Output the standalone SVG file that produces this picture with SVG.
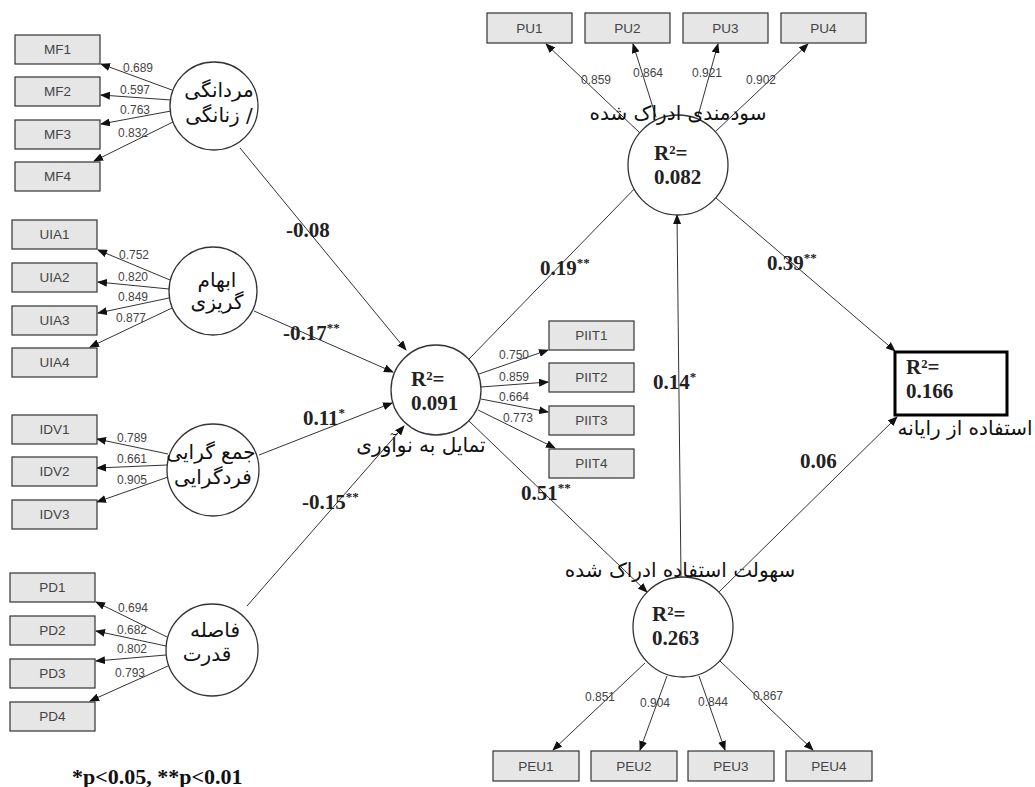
<svg xmlns="http://www.w3.org/2000/svg" width="1035" height="787" viewBox="0 0 1035 787">
<style>
.bg{fill:#ffffff}
.ind rect{fill:#e6e6e6;stroke:#333;stroke-width:1.2}
.ind text{font-family:"Liberation Sans",Arial,sans-serif;font-size:13.5px;fill:#444;text-anchor:middle}
.lat circle{fill:#fff;stroke:#333;stroke-width:1.3}
.ar{font-family:"DejaVu Sans","Noto Sans",sans-serif;font-size:20px;fill:#111;text-anchor:middle;direction:rtl}
.r2{font-family:"Liberation Serif","Times New Roman",serif;font-size:21px;font-weight:bold;fill:#222}
.con line{stroke:#333;stroke-width:1;marker-end:url(#ah)}
.ld{font-family:"Liberation Sans",Arial,sans-serif;font-size:12px;fill:#444;text-anchor:middle}
.pc{font-family:"Liberation Serif","Times New Roman",serif;font-size:21px;font-weight:bold;fill:#222}
.pc tspan.s{font-size:13px}
</style>
<defs>
<marker id="ah" markerWidth="10" markerHeight="8" refX="9" refY="4" orient="auto" markerUnits="userSpaceOnUse">
<path d="M0,0 L10,4 L0,8 Z" fill="#111"/>
</marker>
</defs>
<rect class="bg" x="0" y="0" width="1035" height="787"/>

<g id="connectors" class="con">
<line x1="172" y1="90" x2="101" y2="64"/>
<line x1="171" y1="100" x2="101" y2="95"/>
<line x1="171" y1="111" x2="101" y2="124"/>
<line x1="173" y1="122" x2="94" y2="161"/>
<line x1="170" y1="280" x2="98" y2="250"/>
<line x1="169" y1="289" x2="98" y2="282"/>
<line x1="169" y1="298" x2="98" y2="313"/>
<line x1="172" y1="308" x2="90" y2="347"/>
<line x1="168" y1="454" x2="97" y2="439"/>
<line x1="167" y1="465" x2="97" y2="468"/>
<line x1="168" y1="477" x2="97" y2="502"/>
<line x1="167" y1="637" x2="96" y2="602"/>
<line x1="166" y1="646" x2="96" y2="631"/>
<line x1="166" y1="655" x2="96" y2="661"/>
<line x1="168" y1="666" x2="90" y2="701"/>
<line x1="240" y1="148" x2="406" y2="350"/>
<line x1="254" y1="311" x2="393" y2="372"/>
<line x1="259" y1="455" x2="392" y2="403"/>
<line x1="247" y1="606" x2="404" y2="426"/>
<line x1="479" y1="374" x2="548" y2="350"/>
<line x1="481" y1="387" x2="548" y2="382"/>
<line x1="481" y1="399" x2="548" y2="412"/>
<line x1="478" y1="410" x2="555" y2="448"/>
<line x1="469" y1="359" x2="642" y2="181"/>
<line x1="469" y1="421" x2="647" y2="592"/>
<line x1="716" y1="198" x2="895" y2="351"/>
<line x1="719" y1="592" x2="897" y2="417"/>
<line x1="681" y1="577" x2="677" y2="215"/>
<line x1="640" y1="133" x2="546" y2="44"/>
<line x1="656" y1="117" x2="633" y2="44"/>
<line x1="698" y1="116" x2="718" y2="44"/>
<line x1="715" y1="132" x2="808" y2="44"/>
<line x1="645" y1="663" x2="553" y2="750"/>
<line x1="667" y1="676" x2="640" y2="750"/>
<line x1="699" y1="676" x2="725" y2="750"/>
<line x1="720" y1="661" x2="813" y2="750"/>
</g>

<g id="loading-labels">
<text class="ld" x="138" y="72">0.689</text>
<text class="ld" x="135" y="94">0.597</text>
<text class="ld" x="135" y="114">0.763</text>
<text class="ld" x="133" y="137">0.832</text>
<text class="ld" x="134" y="259">0.752</text>
<text class="ld" x="133" y="281">0.820</text>
<text class="ld" x="133" y="301">0.849</text>
<text class="ld" x="131" y="322">0.877</text>
<text class="ld" x="132" y="442">0.789</text>
<text class="ld" x="132" y="463">0.661</text>
<text class="ld" x="132" y="484">0.905</text>
<text class="ld" x="133" y="612">0.694</text>
<text class="ld" x="132" y="634">0.682</text>
<text class="ld" x="132" y="653">0.802</text>
<text class="ld" x="130" y="677">0.793</text>
<text class="ld" x="514" y="359">0.750</text>
<text class="ld" x="514" y="381">0.859</text>
<text class="ld" x="514" y="401">0.664</text>
<text class="ld" x="518" y="422">0.773</text>
<text class="ld" x="596" y="84">0.859</text>
<text class="ld" x="648" y="77">0.864</text>
<text class="ld" x="707" y="77">0.921</text>
<text class="ld" x="761" y="84">0.902</text>
<text class="ld" x="600" y="701">0.851</text>
<text class="ld" x="655" y="707">0.904</text>
<text class="ld" x="713" y="706">0.844</text>
<text class="ld" x="768" y="700">0.867</text>
</g>

<g id="path-coefficients">
<text class="pc" x="286" y="237">-0.08</text>
<text class="pc" x="283" y="340">-0.17<tspan class="s" dy="-8">**</tspan></text>
<text class="pc" x="303" y="425">0.11<tspan class="s" dy="-8">*</tspan></text>
<text class="pc" x="302" y="509">-0.15<tspan class="s" dy="-8">**</tspan></text>
<text class="pc" x="540" y="275">0.19<tspan class="s" dy="-8">**</tspan></text>
<text class="pc" x="521" y="500">0.51<tspan class="s" dy="-8">**</tspan></text>
<text class="pc" x="767" y="270">0.39<tspan class="s" dy="-8">**</tspan></text>
<text class="pc" x="653" y="389">0.14<tspan class="s" dy="-8">*</tspan></text>
<text class="pc" x="800" y="468">0.06</text>
</g>

<g id="MF1" class="ind"><rect x="15" y="35" width="85" height="29"/><text x="57.5" y="54">MF1</text></g>
<g id="MF2" class="ind"><rect x="15" y="77" width="85" height="29"/><text x="57.5" y="96">MF2</text></g>
<g id="MF3" class="ind"><rect x="15" y="120" width="85" height="29"/><text x="57.5" y="139">MF3</text></g>
<g id="MF4" class="ind"><rect x="15" y="162" width="85" height="29"/><text x="57.5" y="181">MF4</text></g>

<g id="UIA1" class="ind"><rect x="12" y="220" width="85" height="29"/><text x="54.5" y="239">UIA1</text></g>
<g id="UIA2" class="ind"><rect x="12" y="263" width="85" height="29"/><text x="54.5" y="282">UIA2</text></g>
<g id="UIA3" class="ind"><rect x="12" y="306" width="85" height="29"/><text x="54.5" y="325">UIA3</text></g>
<g id="UIA4" class="ind"><rect x="12" y="348" width="85" height="29"/><text x="54.5" y="367">UIA4</text></g>

<g id="IDV1" class="ind"><rect x="12" y="415" width="85" height="29"/><text x="54.5" y="434">IDV1</text></g>
<g id="IDV2" class="ind"><rect x="12" y="457" width="85" height="29"/><text x="54.5" y="476">IDV2</text></g>
<g id="IDV3" class="ind"><rect x="12" y="500" width="85" height="29"/><text x="54.5" y="519">IDV3</text></g>

<g id="PD1" class="ind"><rect x="10" y="573" width="85" height="29"/><text x="52.5" y="592">PD1</text></g>
<g id="PD2" class="ind"><rect x="10" y="616" width="85" height="29"/><text x="52.5" y="635">PD2</text></g>
<g id="PD3" class="ind"><rect x="10" y="659" width="85" height="29"/><text x="52.5" y="678">PD3</text></g>
<g id="PD4" class="ind"><rect x="10" y="702" width="85" height="29"/><text x="52.5" y="721">PD4</text></g>

<g id="PIIT1" class="ind"><rect x="549" y="321" width="85" height="29"/><text x="591.5" y="340">PIIT1</text></g>
<g id="PIIT2" class="ind"><rect x="549" y="363" width="85" height="29"/><text x="591.5" y="382">PIIT2</text></g>
<g id="PIIT3" class="ind"><rect x="549" y="406" width="85" height="29"/><text x="591.5" y="425">PIIT3</text></g>
<g id="PIIT4" class="ind"><rect x="549" y="449" width="85" height="29"/><text x="591.5" y="468">PIIT4</text></g>

<g id="PU1" class="ind"><rect x="487" y="13" width="85" height="30"/><text x="529.5" y="33">PU1</text></g>
<g id="PU2" class="ind"><rect x="585" y="13" width="85" height="30"/><text x="627.5" y="33">PU2</text></g>
<g id="PU3" class="ind"><rect x="683" y="13" width="85" height="30"/><text x="725.5" y="33">PU3</text></g>
<g id="PU4" class="ind"><rect x="781" y="13" width="85" height="30"/><text x="823.5" y="33">PU4</text></g>

<g id="PEU1" class="ind"><rect x="493" y="751" width="86" height="30"/><text x="536" y="771">PEU1</text></g>
<g id="PEU2" class="ind"><rect x="591" y="751" width="86" height="30"/><text x="634" y="771">PEU2</text></g>
<g id="PEU3" class="ind"><rect x="688" y="751" width="86" height="30"/><text x="731" y="771">PEU3</text></g>
<g id="PEU4" class="ind"><rect x="786" y="751" width="86" height="30"/><text x="829" y="771">PEU4</text></g>

<g id="MF" class="lat">
<circle cx="214" cy="106" r="44"/>
<text class="ar" x="219" y="97">مردانگی</text>
<text class="ar" x="219" y="122">/ زنانگی</text>
</g>
<g id="UIA" class="lat">
<circle cx="213" cy="291" r="44"/>
<text class="ar" x="217" y="287">ابهام</text>
<text class="ar" x="217" y="309">گریزی</text>
</g>
<g id="IDV" class="lat">
<circle cx="213" cy="470" r="46"/>
<text class="ar" x="211" y="459">جمع گرایی</text>
<text class="ar" x="213" y="484">فردگرایی</text>
</g>
<g id="PD" class="lat">
<circle cx="212" cy="650" r="46"/>
<text class="ar" x="215" y="637">فاصله</text>
<text class="ar" x="207" y="661">قدرت</text>
</g>
<g id="PIIT" class="lat">
<circle cx="436" cy="390" r="45"/>
<text class="r2" x="411" y="386">R²=</text>
<text class="r2" x="411" y="410">0.091</text>
<text class="ar" x="421" y="452">تمایل به نوآوری</text>
</g>
<g id="PU" class="lat">
<circle cx="678" cy="165" r="50"/>
<text class="r2" x="654" y="160">R²=</text>
<text class="r2" x="654" y="184">0.082</text>
<text class="ar" x="678" y="120">سودمندی ادراک شده</text>
</g>
<g id="PEU" class="lat">
<circle cx="683" cy="627" r="50"/>
<text class="r2" x="652" y="621">R²=</text>
<text class="r2" x="652" y="645">0.263</text>
<text class="ar" x="680" y="577">سهولت استفاده ادراک شده</text>
</g>
<g id="USE">
<rect x="895" y="352" width="112" height="63" fill="#fff" stroke="#000" stroke-width="3"/>
<text class="r2" x="906" y="374">R²=</text>
<text class="r2" x="906" y="398">0.166</text>
<text class="ar" x="965" y="435">استفاده از رایانه</text>
</g>

<text id="note" x="72" y="784" font-family="Liberation Serif,'Times New Roman',serif" font-size="22" font-weight="bold" fill="#111">*p&lt;0.05, **p&lt;0.01</text>
</svg>
